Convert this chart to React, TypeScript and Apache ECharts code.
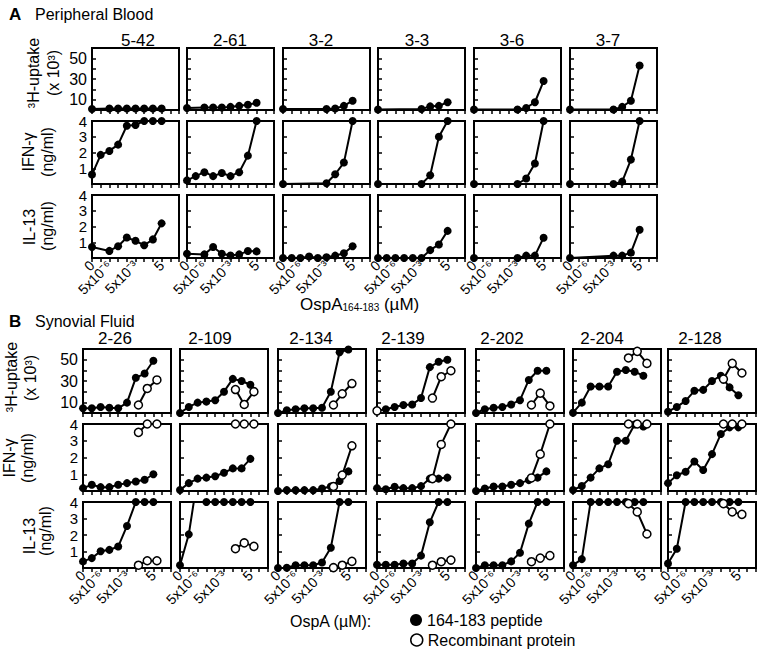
import React, { useEffect, useRef } from 'react';
import * as echarts from 'echarts';

const FONT = '"Liberation Sans", Arial, Helvetica, sans-serif';

// ---------- data ----------
const donorsA = ['5-42', '2-61', '3-2', '3-3', '3-6', '3-7'];
const donorsB = ['2-26', '2-109', '2-134', '2-139', '2-202', '2-204', '2-128'];

// x positions (tick index on the log-concentration axis)
const peptideX = [0, 1, 2, 3, 4, 5, 6, 7, 8];
const recombinantX = [0, 6.3, 7.3, 8.4];
const xTickLabels = ['0', '', '5x10⁻⁶', '', '', '5x10⁻³', '', '', '5', '', ''];
const uptakeTickLabels = [10, 30, 50];
const cytokineTickLabels = [1, 2, 3, 4];

const PEP = '164-183 peptide';
const REC = 'Recombinant protein';

// Panel A – peripheral blood, peptide only
const uptakeA: (number | null)[][] = [
  [1, null, 1.5, 1.5, 1.5, 1.5, 1.5, 1.5, 1.5],
  [2, null, 2.5, 2.5, 2.5, 3, 4, 5, 7],
  [1, null, null, null, null, 1, 1.5, 4, 9],
  [0.5, null, null, null, null, 1, 3.5, 4, 7.5],
  [0.5, null, null, null, null, 0.5, 2, 7.5, 28],
  [0.5, null, null, null, null, 0.5, 3, 9, 43],
];
const ifnA: (number | null)[][] = [
  [0.6, 1.85, 2.1, 2.5, 3.7, 3.75, 4, 4, 4],
  [0.23, 0.5, 0.75, 0.5, 0.7, 0.5, 0.75, 1.8, 4],
  [0, null, null, null, null, 0.05, 0.62, 1.36, 4],
  [0, null, null, null, null, 0, 0.55, 3.0, 4],
  [0, null, null, null, null, 0, 0.35, 1.3, 4],
  [0, null, null, null, null, 0, 0.15, 1.55, 4],
];
const il13A: (number | null)[][] = [
  [0.7, null, 0.45, 0.75, 1.3, 1.09, 0.81, 1.18, 2.2],
  [0.27, null, 0.23, 0.7, 0.27, 0.16, 0.23, 0.44, 0.42],
  [0, 0, 0, 0.1, 0, 0.05, 0.15, 0.3, 0.75],
  [0, 0, 0, 0, 0, 0, 0.5, 0.86, 1.72],
  [0, null, null, null, null, 0, 0.15, 0.15, 1.29],
  [0, null, null, null, null, 0.15, 0.15, 0.34, 1.79],
];

// Panel B – synovial fluid
const uptakeB: (number | null)[][] = [
  [4.4, 4.4, 5.7, 5, 4.4, 9.7, 33, 37, 49],
  [0, 5.7, 9.7, 10.7, 12, 20, 32, 30, 26.5],
  [0, 2.5, 3.5, 4.4, 4.4, 5, 20, 57, 59.5],
  [2, 3.5, 5.7, 7.5, 8, 14, 43, 48, 50],
  [0, 3.5, 5, 5.7, 8, 12, 31, 39.6, 39.6],
  [0.3, 9.7, 24.8, 24.8, 24.8, 38.7, 40.3, 38.7, 35],
  [1.2, 5.7, 11.3, 20.8, 21.7, 30, 35, 24, 16.7],
];
const uptakeRecB: (number | null)[][] = [
  [null, 7.5, 23, 31],
  [null, 22, 8, 20],
  [null, 7.5, 18, 27.6],
  [2, 14, 34, 39.6],
  [null, 7.5, 18.6, 6.6],
  [null, 51.6, 57.8, 46.5],
  [null, 31.8, 46.5, 37.5],
];
const ifnB: (number | null)[][] = [
  [0.17, 0.37, 0.23, 0.23, 0.37, 0.47, 0.57, 0.67, 1.0],
  [0.06, 0.47, 0.74, 0.8, 0.88, 1.09, 1.35, 1.35, 1.92],
  [0, 0.05, 0.05, 0.05, 0.05, 0.15, 0.27, 0.6, 1.17],
  [0.17, 0.1, 0.25, 0.17, 0.17, 0.29, 0.74, 0.74, 0.8],
  [0, 0.15, 0.27, 0.27, 0.37, 0.47, 0.65, 0.8, 1.17],
  [0.06, 0.3, 0.8, 1.35, 1.6, 3.0, 3.0, 3.97, 3.85],
  [0.47, 0.94, 1.15, 1.76, 1.25, 2.2, 3.4, 3.8, 3.8],
];
const ifnRecB: (number | null)[][] = [
  [null, 3.5, 4, 4],
  [null, 4, 4, 4],
  [null, 0.27, 0.95, 2.7],
  [null, 0.74, 2.78, 4],
  [null, 0.78, 2.2, 4],
  [null, 4, 4, 4],
  [null, 4, 4, 4],
];
const il13B: (number | null)[][] = [
  [0.4, 0.6, 1.02, 1.1, 1.3, 2.55, 4, 4, 4],
  [0.17, 2.04, 5.5, 4, 4, 4, 4, 4, 4],
  [0, 0.02, 0.17, 0.17, 0.17, 0.33, 1.23, 4, 4],
  [0.2, 0.2, 0.2, 0.27, 0.27, 0.75, 2.77, 4, 4],
  [0, 0.17, 0.17, 0.17, 0.4, 0.92, 2.69, 4, 4],
  [0.17, 0.54, 4, 4, 4, 4, 4, 4, 4],
  [0.27, 1.17, 4, 4, 4, 4, 4, 4, 4],
];
const il13RecB: (number | null)[][] = [
  [null, 0.17, 0.44, 0.44],
  [null, 1.17, 1.52, 1.31],
  [null, 0.02, 0.17, 0.4],
  [null, 0.17, 0.38, 0.48],
  [null, 0.38, 0.6, 0.75],
  [null, 3.9, 3.4, 2.06],
  [null, 3.9, 3.4, 3.25],
];

// ---------- layout ----------
const colLeftA = [92, 187, 283, 378, 474, 570];
const colLeftB = [83, 180, 278, 377, 476, 573, 668];
const boxWA = 87;
const boxWB = 88;
const rowsA = [
  { top: 48, h: 62 },
  { top: 121, h: 63 },
  { top: 195, h: 63 },
];
const rowsB = [
  { top: 349, h: 64 },
  { top: 424, h: 67 },
  { top: 502, h: 66 },
];
const titleXA = [138, 230, 321, 417, 512, 608];
const titleXB = [115, 210, 311, 403, 502, 602, 700];

function buildOption() {
  const grid: any[] = [];
  const xAxis: any[] = [];
  const yAxis: any[] = [];
  const series: any[] = [];

  const addPanel = (
    lefts: number[],
    width: number,
    rows: { top: number; h: number }[],
    pep: (number | null)[][][],
    rec: ((number | null)[][] | null)[]
  ) => {
    rows.forEach((row, r) => {
      lefts.forEach((left, c) => {
        const g = grid.length;
        const isUptake = r === 0;
        const isBottom = r === rows.length - 1;
        grid.push({
          left,
          top: row.top,
          width,
          height: row.h,
          show: true,
          borderColor: '#000',
          borderWidth: 2,
          backgroundColor: 'transparent',
          containLabel: false,
        });
        xAxis.push({
          type: 'value',
          gridIndex: g,
          min: 0,
          max: 10,
          interval: 1,
          axisLine: { show: true, onZero: false, lineStyle: { color: '#000', width: 2 } },
          axisTick: { show: true, inside: false, length: 4, lineStyle: { color: '#000', width: 1.5 } },
          splitLine: { show: false },
          axisLabel: isBottom
            ? {
                show: true,
                rotate: 45,
                margin: 5,
                color: '#000',
                fontSize: 14,
                fontFamily: FONT,
                formatter: (v: number) => (Number.isInteger(v) ? xTickLabels[v] ?? '' : ''),
              }
            : { show: false },
        });
        yAxis.push({
          type: 'value',
          gridIndex: g,
          min: 0,
          max: isUptake ? 60 : 4,
          interval: isUptake ? 10 : 1,
          axisLine: { show: true, onZero: false, lineStyle: { color: '#000', width: 2 } },
          axisTick: { show: true, inside: true, length: 4, lineStyle: { color: '#000', width: 1.5 } },
          splitLine: { show: false },
          axisLabel:
            c === 0
              ? {
                  show: true,
                  margin: 5,
                  color: '#000',
                  fontSize: isUptake ? 16 : 15,
                  lineHeight: isUptake ? 16 : 14,
                  fontFamily: FONT,
                  formatter: (v: number) => {
                    const set = isUptake ? uptakeTickLabels : cytokineTickLabels;
                    return set.includes(v) ? String(v) : '';
                  },
                }
              : { show: false },
        });
        series.push({
          type: 'line',
          name: PEP,
          xAxisIndex: g,
          yAxisIndex: g,
          data: pep[r][c].map((v, i) => [peptideX[i], v == null ? '-' : v]),
          connectNulls: true,
          symbol: 'circle',
          symbolSize: 8,
          itemStyle: { color: '#000' },
          lineStyle: { color: '#000', width: 2 },
          silent: true,
          clip: true,
          z: 2,
        });
        const recRow = rec[r];
        if (recRow) {
          const vals = recRow[c];
          const data: any[] = [];
          vals.forEach((v, i) => {
            data.push([recombinantX[i], v == null ? '-' : v]);
            if (i === 0) data.push([3, '-']);
          });
          series.push({
            type: 'line',
            name: REC,
            xAxisIndex: g,
            yAxisIndex: g,
            data,
            connectNulls: false,
            symbol: 'circle',
            symbolSize: 8,
            itemStyle: { color: '#fff', borderColor: '#000', borderWidth: 1.5 },
            lineStyle: { color: '#000', width: 2 },
            silent: true,
            clip: true,
            z: 3,
          });
        }
      });
    });
  };

  addPanel(colLeftA, boxWA, rowsA, [uptakeA, ifnA, il13A], [null, null, null]);
  addPanel(colLeftB, boxWB, rowsB, [uptakeB, ifnB, il13B], [uptakeRecB, ifnRecB, il13RecB]);

  const txt = (
    x: number,
    y: number,
    text: string,
    opts: { size?: number; weight?: string; align?: string; rot?: number; rich?: any } = {}
  ) => ({
    type: 'text',
    x,
    y,
    rotation: opts.rot ?? 0,
    silent: true,
    style: {
      text,
      fill: '#000',
      fontSize: opts.size ?? 16,
      fontFamily: FONT,
      fontWeight: opts.weight ?? 'normal',
      align: opts.align ?? 'center',
      textAlign: opts.align ?? 'center',
      verticalAlign: 'middle',
      textVerticalAlign: 'middle',
      rich: opts.rich,
    },
  });

  const R = Math.PI / 2;
  const graphic: any[] = [
    txt(9, 14, 'A', { size: 17, weight: 'bold', align: 'left' }),
    txt(35, 14, 'Peripheral Blood', { size: 16, align: 'left' }),
    txt(9, 321, 'B', { size: 17, weight: 'bold', align: 'left' }),
    txt(35, 321, 'Synovial Fluid', { size: 16, align: 'left' }),
    // row labels A
    txt(33, 73, '³H-uptake', { rot: R }),
    txt(53, 73, '(x 10³)', { rot: R }),
    txt(28, 152, 'IFN-γ', { rot: R }),
    txt(47, 152, '(ng/ml)', { rot: R }),
    txt(29, 227, 'IL-13', { rot: R }),
    txt(47, 226, '(ng/ml)', { rot: R }),
    // row labels B
    txt(11, 377, '³H-uptake', { rot: R }),
    txt(30, 378, '(x 10³)', { rot: R }),
    txt(9, 458, 'IFN-γ', { rot: R }),
    txt(27, 458, '(ng/ml)', { rot: R }),
    txt(29, 536, 'IL-13', { rot: R }),
    txt(45, 531, '(ng/ml)', { rot: R }),
    // x-axis titles
    txt(300, 304, 'OspA{sub|164-183} (µM)', {
      size: 17,
      align: 'left',
      rich: { sub: { fontSize: 10, fontFamily: FONT, fill: '#000', verticalAlign: 'bottom', padding: [6, 0, 0, 0] } },
    }),
    txt(290, 621, 'OspA (µM):', { size: 16, align: 'left' }),
  ];
  donorsA.forEach((d, i) => graphic.push(txt(titleXA[i], 40, d, { size: 17 })));
  donorsB.forEach((d, i) => graphic.push(txt(titleXB[i], 338, d, { size: 17 })));

  const legendBase = {
    show: true,
    left: 410,
    orient: 'vertical',
    itemWidth: 12,
    itemHeight: 12,
    itemGap: 4,
    selectedMode: false,
    padding: 0,
    textStyle: { fontSize: 16, fontFamily: FONT, color: '#000' },
  };

  return {
    animation: false,
    backgroundColor: '#fff',
    textStyle: { fontFamily: FONT },
    tooltip: { show: false },
    legend: [
      {
        ...legendBase,
        top: 612,
        data: [{ name: PEP, icon: 'circle', itemStyle: { color: '#000', borderWidth: 0 } }],
      },
      {
        ...legendBase,
        top: 632,
        data: [{ name: REC, icon: 'circle', itemStyle: { color: '#fff', borderColor: '#000', borderWidth: 1.5 } }],
      },
    ],
    grid,
    xAxis,
    yAxis,
    series,
    graphic: { elements: graphic },
  };
}

export default function App() {
  const ref = useRef<HTMLDivElement>(null);
  useEffect(() => {
    if (!ref.current) return;
    const chart = echarts.init(ref.current, undefined, { renderer: 'svg' });
    chart.setOption(buildOption() as any);
    return () => chart.dispose();
  }, []);
  return (
    <div
      ref={ref}
      style={{ position: 'absolute', left: 0, top: 0, width: 763, height: 651, background: '#fff' }}
    />
  );
}
